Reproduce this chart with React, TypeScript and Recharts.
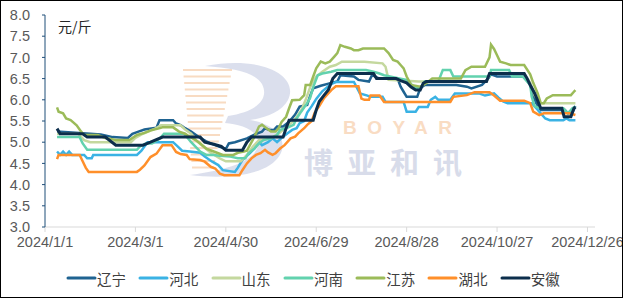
import { LineChart, Line, XAxis, YAxis } from 'recharts';

// [day of 2024 (0 = 1/1), price yuan/jin]
const liaoning = [
  [8, 5.25], [30, 5.2], [37, 5.18], [45, 5.12], [55, 5.1], [58, 5.2], [62, 5.25], [66, 5.3], [74, 5.34],
  [76, 5.52], [85, 5.52], [87, 5.44], [90, 5.4], [93, 5.33], [97, 5.25], [103, 5.1], [107, 5.02],
  [110, 4.97], [116, 4.89], [120, 4.84], [122, 4.97], [126, 5.0], [134, 5.09], [141, 5.21], [144, 5.25],
  [146, 5.33], [149, 5.29], [152, 5.29], [154, 5.37], [158, 5.37], [162, 5.48], [166, 5.65], [169, 5.84],
  [174, 5.88], [176, 6.1], [178, 6.27], [183, 6.33], [190, 6.4], [194, 6.43], [196, 6.58], [205, 6.55],
  [208, 6.47], [215, 6.43], [217, 6.58], [222, 6.5], [234, 6.5], [236, 6.31], [238, 6.19], [240, 6.07],
  [247, 6.07], [249, 6.27], [252, 6.35], [273, 6.35], [280, 6.31], [283, 6.27], [290, 6.35], [294, 6.5],
  [296, 6.6], [300, 6.55], [318, 6.55], [322, 6.35], [324, 6.1], [326, 5.92], [329, 5.76], [345, 5.76],
  [347, 5.68], [350, 5.7], [352, 5.85],
];
const hebei = [
  [8, 4.78], [10, 4.7], [12, 4.78], [14, 4.7], [16, 4.78], [18, 4.7], [26, 4.7], [28, 4.62], [31, 4.62],
  [32, 4.7], [61, 4.7], [64, 4.8], [66, 4.9], [68, 5.0], [85, 5.0], [88, 4.9], [91, 4.8], [96, 4.78],
  [103, 4.75], [106, 4.66], [111, 4.54], [115, 4.46], [118, 4.34], [126, 4.3], [128, 4.4], [131, 4.58],
  [136, 4.74], [139, 4.85], [142, 5.0], [144, 4.93], [148, 5.0], [151, 5.09], [154, 5.0], [158, 5.13],
  [161, 5.21], [164, 5.29], [167, 5.33], [169, 5.45], [172, 5.5], [174, 5.7], [177, 5.85], [180, 6.02],
  [184, 6.2], [189, 6.35], [193, 6.42], [205, 6.42], [209, 6.15], [214, 6.1], [216, 6.07], [224, 6.07],
  [226, 5.95], [238, 5.95], [240, 5.72], [246, 5.72], [248, 5.83], [254, 5.83], [256, 6.0], [259, 6.07],
  [261, 6.0], [269, 6.0], [272, 6.15], [288, 6.15], [292, 6.1], [298, 6.15], [301, 6.05], [304, 5.96],
  [307, 5.92], [323, 5.92], [326, 5.8], [329, 5.68], [332, 5.56], [335, 5.52], [344, 5.52], [346, 5.56],
  [348, 5.52], [352, 5.52],
];
const shandong = [
  [8, 5.2], [22, 5.2], [26, 5.05], [30, 5.0], [57, 5.0], [60, 5.1], [65, 5.2], [72, 5.3], [77, 5.4],
  [90, 5.4], [93, 5.3], [97, 5.2], [100, 5.05], [105, 4.9], [110, 4.75], [116, 4.62], [120, 4.55],
  [130, 4.55], [134, 4.7], [138, 4.9], [142, 5.05], [150, 5.1], [155, 5.2], [160, 5.35], [165, 5.5],
  [170, 5.75], [173, 6.0], [176, 6.3], [180, 6.55], [184, 6.66], [189, 6.78], [193, 6.82], [197, 6.9],
  [212, 6.9], [224, 6.86], [226, 6.78], [228, 6.47], [248, 6.43], [293, 6.43], [295, 6.62], [318, 6.62],
  [322, 6.4], [325, 6.1], [329, 5.92], [352, 5.92],
];
const henan = [
  [8, 5.12], [23, 5.12], [25, 4.97], [28, 4.82], [61, 4.82], [63, 4.9], [67, 4.97], [71, 4.97], [76, 5.08],
  [79, 5.2], [92, 5.2], [94, 5.13], [97, 5.0], [100, 4.89], [103, 4.78], [107, 4.7], [112, 4.7],
  [116, 4.68], [123, 4.66], [128, 4.62], [133, 4.62], [135, 4.74], [139, 4.85], [142, 4.97], [145, 5.05],
  [150, 5.09], [154, 5.17], [156, 5.29], [160, 5.33], [165, 5.41], [167, 5.56], [170, 5.72], [174, 5.92],
  [176, 6.05], [178, 6.3], [181, 6.58], [184, 6.62], [190, 6.66], [194, 6.7], [213, 6.7], [218, 6.66],
  [222, 6.62], [225, 6.58], [236, 6.5], [240, 6.47], [246, 6.27], [249, 6.27], [252, 6.43], [261, 6.43],
  [264, 6.7], [269, 6.7], [271, 6.55], [295, 6.55], [296, 6.7], [308, 6.7], [310, 6.55], [317, 6.55],
  [319, 6.47], [322, 6.35], [323, 6.07], [325, 5.84], [329, 5.8], [344, 5.8], [347, 5.68], [350, 5.8],
  [352, 5.84],
];
const jiangsu = [
  [8, 5.82], [9, 5.72], [12, 5.68], [14, 5.56], [17, 5.52], [21, 5.4], [24, 5.25], [26, 5.17], [35, 5.17],
  [40, 5.1], [47, 5.05], [56, 5.05], [61, 5.17], [66, 5.22], [71, 5.29], [75, 5.32], [78, 5.35], [85, 5.35],
  [89, 5.25], [93, 5.2], [96, 5.13], [100, 5.05], [103, 4.97], [107, 4.85], [112, 4.78], [118, 4.7],
  [125, 4.7], [128, 4.75], [132, 4.78], [134, 4.8], [136, 4.93], [139, 5.13], [142, 5.37], [144, 5.41],
  [147, 5.33], [150, 5.25], [153, 5.25], [155, 5.33], [157, 5.48], [160, 5.6], [162, 5.8], [164, 5.99],
  [169, 6.0], [172, 6.11], [173, 6.35], [176, 6.35], [178, 6.55], [180, 6.74], [183, 6.9], [186, 6.86],
  [189, 6.9], [192, 7.02], [194, 7.1], [196, 7.29], [199, 7.25], [203, 7.21], [205, 7.17], [208, 7.17],
  [211, 7.21], [225, 7.21], [228, 7.1], [231, 6.94], [234, 6.9], [236, 6.82], [238, 6.74], [240, 6.55],
  [243, 6.35], [249, 6.31], [253, 6.39], [257, 6.5], [276, 6.5], [279, 6.7], [283, 6.78], [292, 6.78],
  [295, 7.0], [296, 7.3], [298, 7.2], [300, 7.05], [302, 6.9], [306, 6.86], [309, 6.82], [318, 6.82],
  [322, 6.6], [324, 6.4], [327, 6.15], [329, 5.92], [331, 5.92], [333, 6.03], [337, 6.11], [349, 6.11],
  [351, 6.19], [352, 6.23],
];
const hubei = [
  [8, 4.6], [9, 4.7], [23, 4.7], [25, 4.55], [27, 4.4], [29, 4.3], [61, 4.3], [63, 4.35], [66, 4.45],
  [70, 4.65], [74, 4.73], [78, 4.93], [84, 4.93], [87, 4.77], [90, 4.72], [94, 4.7], [96, 4.6],
  [103, 4.58], [106, 4.54], [110, 4.42], [113, 4.38], [116, 4.26], [119, 4.22], [129, 4.22], [131, 4.34],
  [134, 4.5], [137, 4.62], [140, 4.7], [143, 4.74], [146, 4.82], [148, 4.76], [151, 4.7], [153, 4.74],
  [156, 4.85], [159, 4.93], [163, 5.09], [166, 5.13], [168, 5.21], [172, 5.33], [174, 5.41], [177, 5.5],
  [179, 5.7], [182, 5.85], [185, 6.03], [188, 6.15], [190, 6.23], [193, 6.32], [208, 6.32], [210, 6.03],
  [212, 6.0], [215, 6.0], [216, 6.1], [222, 6.1], [225, 5.95], [269, 5.95], [271, 6.07], [280, 6.11],
  [285, 6.18], [295, 6.18], [298, 6.1], [302, 5.98], [318, 5.98], [322, 5.92], [324, 5.72], [328, 5.64],
  [331, 5.68], [348, 5.68], [352, 5.64],
];
const anhui = [
  [8, 5.32], [10, 5.2], [25, 5.2], [28, 5.12], [40, 5.12], [47, 4.93], [65, 4.93], [70, 5.0], [78, 5.12],
  [103, 5.12], [106, 5.0], [112, 4.95], [117, 4.9], [120, 4.81], [131, 4.81], [134, 5.0], [137, 5.12],
  [158, 5.12], [160, 5.33], [162, 5.52], [178, 5.52], [180, 5.76], [182, 5.96], [185, 6.1], [188, 6.23],
  [191, 6.5], [194, 6.62], [218, 6.62], [220, 6.5], [233, 6.5], [236, 6.45], [240, 6.4], [243, 6.3],
  [246, 6.23], [249, 6.23], [251, 6.39], [253, 6.43], [293, 6.43], [295, 6.62], [318, 6.62], [320, 6.5],
  [322, 6.35], [325, 6.15], [329, 5.8], [343, 5.8], [344.5, 5.6], [349, 5.6], [351, 5.8], [352, 5.83],
];

const provinces = ['辽宁', '河北', '山东', '河南', '江苏', '湖北', '安徽'];
const seriesData = [liaoning, hebei, shandong, henan, jiangsu, hubei, anhui];
const colors = ['#1F6391', '#3AB2E4', '#C4D89E', '#62D2AE', '#9BBB59', '#FF8F2A', '#0C2E4C'];

const xTicks = [0, 60, 120, 180, 240, 300, 360];
const yTicks = [3, 3.5, 4, 4.5, 5, 5.5, 6, 6.5, 7, 7.5, 8];

const fmtDate = (day: number) => {
  const d = new Date(2024, 0, 1 + day);
  return `${d.getFullYear()}/${d.getMonth() + 1}/${d.getDate()}`;
};

const FONT = '"Liberation Sans", Arial, "Noto Sans CJK SC", sans-serif';
const CJK = '"Noto Sans CJK SC", sans-serif';

function Watermark() {
  return (
    <svg width={623} height={298} style={{ position: 'absolute', left: 0, top: 0 }}>
      {Array.from({ length: 16 }).map((_, i) => (
        <line key={i} x1={183 + i * 0.6} x2={232 - i * 1.2} y1={70 + i * 6.5} y2={70 + i * 6.5}
          stroke="#F7D3B3" strokeWidth={2} opacity={0.8} />
      ))}
      <path d="M205 66 C260 55 300 75 288 100 C282 112 265 118 250 120 C285 126 292 150 270 165 C250 178 215 178 190 175 C225 170 255 162 258 145 C260 130 240 124 225 123 L228 116 C255 112 270 100 262 84 C255 72 232 68 205 66 Z"
        fill="#D5D9EA" opacity={0.85} />
      <text x={343} y={134} fontSize={19} fontWeight="bold" letterSpacing={10.5} fill="#F9DCC3" fontFamily={FONT}>BOYAR</text>
      <text x={304} y={174} fontSize={29} fontWeight="bold" letterSpacing={14} fill="#D8DCEA" fontFamily={CJK}>博亚和讯</text>
    </svg>
  );
}

export default function App() {
  return (
    <div style={{ position: 'absolute', left: 0, top: 0, width: 623, height: 298, background: '#fff', fontFamily: FONT, overflow: 'hidden' }}>
      <Watermark />
      <div style={{ position: 'absolute', left: 0, top: 0 }}>
        <LineChart width={623} height={298} margin={{ top: 15, right: 28, left: 0, bottom: 41 }} style={{ overflow: 'visible' }}>
          <XAxis
            dataKey="day"
            type="number"
            domain={[0, 365]}
            ticks={xTicks}
            tickFormatter={fmtDate}
            allowDataOverflow
            axisLine={{ stroke: '#D9D9D9' }}
            tickLine={{ stroke: '#D9D9D9' }}
            tickSize={5}
            tickMargin={5}
            height={30}
            interval={0}
            tick={{ fill: '#595959', fontSize: 14.5 }}
          />
          <YAxis
            domain={[3, 8]}
            ticks={yTicks}
            tickFormatter={(v: number) => v.toFixed(1)}
            width={45}
            axisLine={{ stroke: '#1F4E79' }}
            tickLine={{ stroke: '#1F4E79' }}
            tickSize={3}
            tickMargin={12}
            interval={0}
            tick={{ fill: '#595959', fontSize: 14.5 }}
          />
          {provinces.map((name, i) => (
            <Line
              key={name}
              name={name}
              data={seriesData[i].map(([day, price]) => ({ day, price }))}
              dataKey="price"
              type="linear"
              stroke={colors[i]}
              strokeWidth={i === 6 ? 3 : 2.5}
              dot={false}
              activeDot={false}
              isAnimationActive={false}
            />
          ))}
        </LineChart>
      </div>
      <div style={{ position: 'absolute', left: 58, top: 16, fontSize: 14, color: '#262626', fontFamily: CJK }}>元/斤</div>
      <div style={{ position: 'absolute', left: 66, top: 268, display: 'flex', fontFamily: CJK }}>
        {provinces.map((name, i) => (
          <div key={name} style={{ width: 72.3, display: 'flex', alignItems: 'center', height: 20 }}>
            <svg width={31} height={20}>
              <line x1={2} x2={29} y1={10} y2={10} stroke={colors[i]} strokeWidth={3} strokeLinecap="round" />
            </svg>
            <span style={{ fontSize: 14.5, color: '#404040' }}>{name}</span>
          </div>
        ))}
      </div>
      <div style={{ position: 'absolute', left: 0, top: 0, width: 623, height: 298, boxSizing: 'border-box', border: '1px solid #000', pointerEvents: 'none' }} />
    </div>
  );
}
